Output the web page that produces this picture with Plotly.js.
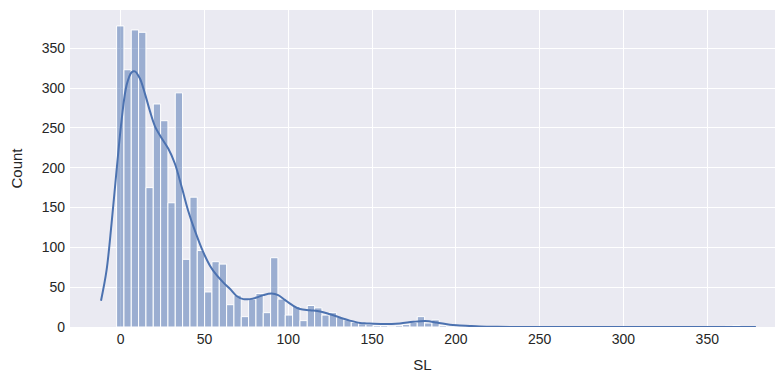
<!DOCTYPE html>
<html>
<head>
<meta charset="utf-8">
<script src="https://cdn.plot.ly/plotly-3.0.1.min.js"></script>
<style>html,body{margin:0;padding:0;background:#fff;}#chart{width:784px;height:384px;}</style>
</head>
<body>
<div id="chart"></div>
<script>
// Histogram bins (SL)
const binStart = -2.4;
const binWidth = 4.375;
const counts = [378, 323, 373, 370, 175, 280, 259, 156, 294, 85,
                163, 96, 44, 82, 79, 28, 40, 13, 35, 42,
                18, 87, 35, 15, 26, 8, 27, 24, 15, 18,
                12, 9, 6, 4, 3, 2, 2, 1, 2, 3,
                6, 13, 5, 9, 2, 1, 1, 0, 0, 0,
                0, 0, 0, 0, 0, 0, 0, 0, 0, 0,
                0, 0, 0, 0, 0, 0, 0, 0, 0, 0,
                0, 0, 0, 0, 0, 0, 0, 0, 0, 0,
                0, 0, 0, 1, 2];
// KDE curve (scaled to counts)
const kdeX = [-11.7, -8.4, -5.4, -2.4, 0.6, 3.6, 6.6, 8.5, 11.5, 14.5, 17.5, 20.5, 24.5, 28.4, 32.4, 36.4, 40.3, 44.3, 49.3, 53.3, 57.3, 61.2, 65.2, 69.2, 73.2, 77.1, 81.1, 85.1, 90.1, 94, 98, 102, 107, 113, 119, 124.9, 130.8, 136.8, 142.8, 146.8, 156.7, 166.6, 174.6, 181.6, 188.5, 196.5, 202.4, 208.4, 214.4, 225, 240, 260, 280, 300, 320, 340, 355, 365, 372, 379];
const kdeY = [33, 71, 130, 197, 260, 304, 320, 321, 312, 293, 271, 252, 237, 224, 205, 176, 146, 121, 94, 77, 65, 56, 48, 39, 35, 35, 37, 40, 42, 40, 34, 28, 22.5, 21, 19.5, 16, 12, 8, 5, 4.5, 3.7, 4.5, 6.5, 7.4, 5.7, 2.8, 2, 1.2, 0.6, 0.2, 0, 0, 0, 0, 0, 0, 0.05, 0.1, 0.1, 0];
const xTicks = [0, 50, 100, 150, 200, 250, 300, 350];
const yTicks = [0, 50, 100, 150, 200, 250, 300, 350];

const centers = counts.map((c, i) => binStart + (i + 0.5) * binWidth);

const bars = {
  type: 'bar', x: centers, y: counts, width: binWidth,
  marker: {color: 'rgba(76,114,176,0.5)', line: {color: '#ffffff', width: 1}},
  hoverinfo: 'x+y', showlegend: false
};
const kde = {
  type: 'scatter', mode: 'lines', x: kdeX, y: kdeY,
  line: {color: '#4C72B0', width: 2, shape: 'spline'},
  showlegend: false
};

const font = {family: 'Liberation Sans, Arial, sans-serif', size: 14, color: '#262626'};
const layout = {
  width: 784, height: 384,
  margin: {l: 70, r: 9, t: 10, b: 57},
  paper_bgcolor: '#ffffff', plot_bgcolor: '#EAEAF2',
  font: font, bargap: 0,
  xaxis: {
    range: [-30.2, 390.4], tickvals: xTicks, ticktext: xTicks.map(String),
    showgrid: true, gridcolor: '#ffffff', gridwidth: 1, zeroline: false,
    showline: false, ticks: '', tickfont: font, ticklabelstandoff: 2,
    title: {text: 'SL', font: {family: font.family, size: 15, color: '#262626'}, standoff: 13}
  },
  yaxis: {
    range: [0, 398], tickvals: yTicks, ticktext: yTicks.map(String),
    showgrid: true, gridcolor: '#ffffff', gridwidth: 1, zeroline: false,
    showline: false, ticks: '', tickfont: font, ticklabelstandoff: 4,
    title: {text: 'Count', font: {family: font.family, size: 15, color: '#262626'}, standoff: 15}
  }
};
Plotly.newPlot('chart', [bars, kde], layout, {displayModeBar: false, staticPlot: true});
</script>
</body>
</html>
